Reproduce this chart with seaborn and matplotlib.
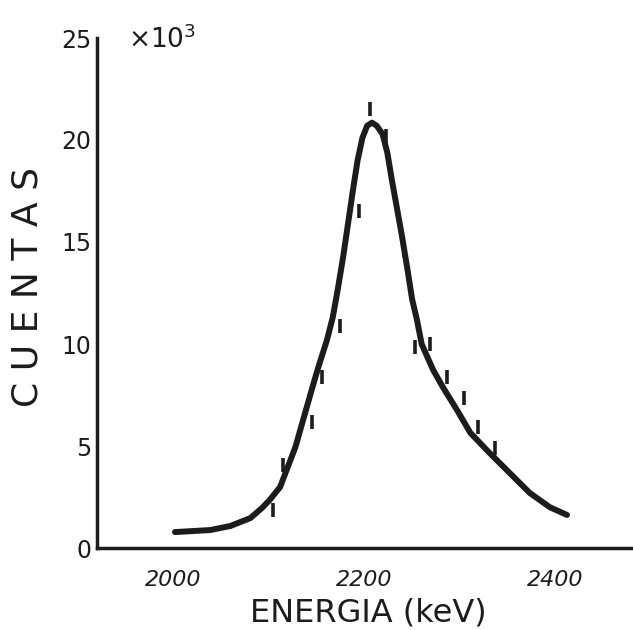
import matplotlib
matplotlib.use("Agg")
import matplotlib.pyplot as plt
import seaborn as sns
import pandas as pd

# fitted curve (keV, counts x10^3)
curve_energy = [2002, 2039, 2060, 2081, 2093, 2101, 2112, 2120, 2128, 2136,
                2145, 2152, 2161, 2167, 2172, 2178, 2183, 2188, 2193, 2198,
                2203, 2208, 2213, 2219, 2224, 2229, 2234, 2239, 2245, 2250,
                2255, 2260, 2266, 2272, 2282, 2297, 2311, 2331, 2352, 2373,
                2394, 2412]
curve_counts = [0.78, 0.88, 1.08, 1.47, 1.96, 2.35, 2.99, 3.97, 4.95, 6.27,
                7.75, 8.87, 10.2, 11.3, 12.6, 14.3, 15.9, 17.5, 19.0, 20.1,
                20.7, 20.85, 20.7, 20.3, 19.4, 18.0, 16.7, 15.4, 13.7, 12.2,
                11.2, 10.0, 9.36, 8.73, 7.9, 6.76, 5.64, 4.66, 3.68, 2.7,
                2.0, 1.62]

# measured points (short vertical dashes)
data_energy = [2105, 2115, 2145, 2156, 2175, 2194, 2206, 2223, 2242, 2253,
               2269, 2286, 2304, 2319, 2337]
data_counts = [1.86, 4.07, 6.18, 8.38, 10.9, 16.5, 21.5, 20.2, 14.6, 9.85,
               10.0, 8.38, 7.35, 5.93, 4.9]

x_ticks = [2000, 2200, 2400]
y_ticks = [0, 5, 10, 15, 20, 25]

sns.set_theme(style="white")
plt.rcParams['font.family'] = ['DejaVu Sans']
ink = "#1c1c1c"

fig = plt.figure(figsize=(6.33, 6.30), dpi=100)
ax = fig.add_axes([97 / 633, 1 - 548 / 630, 1 - 97 / 633, (548 - 38) / 630])

curve = pd.DataFrame({"E": curve_energy, "C": curve_counts})
pts = pd.DataFrame({"E": data_energy, "C": data_counts})

sns.lineplot(data=curve, x="E", y="C", ax=ax, color=ink, linewidth=4.3,
             sort=False, solid_capstyle="round", solid_joinstyle="round")
sns.scatterplot(data=pts, x="E", y="C", ax=ax, marker="|", s=110,
                color=ink, linewidth=2.6)

ax.set_xlim(1920.5, 2481)
ax.set_ylim(0, 25)
ax.set_xticks(x_ticks)
ax.set_yticks(y_ticks)
ax.set_xticklabels([str(v) for v in x_ticks], fontsize=16, style="italic", color=ink)
ax.set_yticklabels([str(v) for v in y_ticks], fontsize=17, color=ink)

for side in ("top", "right"):
    ax.spines[side].set_visible(False)
for side in ("left", "bottom"):
    ax.spines[side].set_color(ink)
    ax.spines[side].set_linewidth(2.5)

ax.tick_params(axis="y", direction="in", length=6, width=2.5, pad=4, colors=ink)
ax.tick_params(axis="x", direction="in", length=7, width=3.2, pad=16, colors=ink)

ax.set_ylabel("C U E N T A S", fontsize=26, color=ink)
ax.yaxis.label.set_va("center")
ax.yaxis.set_label_coords((28 - 97) / 536, (548 - 287) / 510)

ax.set_xlabel("ENERGIA (keV)", fontsize=23, color=ink)
ax.xaxis.label.set_va("center")
ax.xaxis.set_label_coords((368 - 97) / 536, (548 - 613) / 510)

ax.text((128 - 97) / 536, (548 - 40) / 510, r"$\times 10^3$", transform=ax.transAxes,
        fontsize=19, color=ink, ha="left", va="center")

fig.savefig("out.png", dpi=100, facecolor="white")
